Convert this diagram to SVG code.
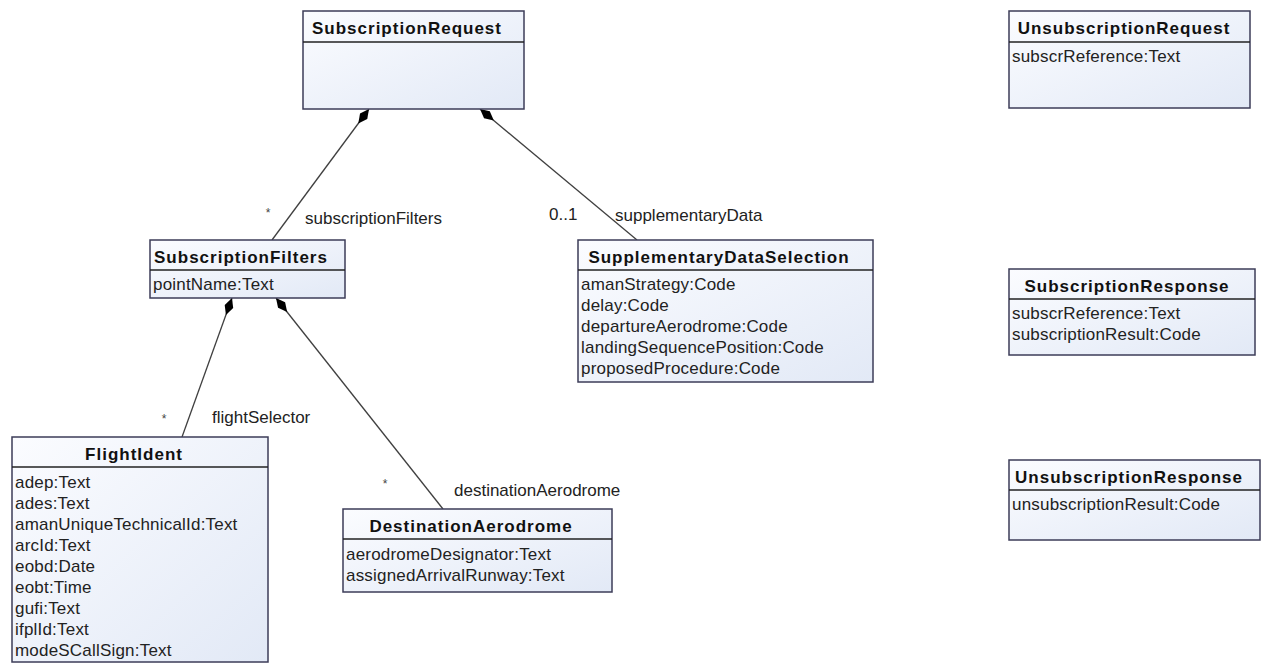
<svg xmlns="http://www.w3.org/2000/svg" width="1262" height="664" viewBox="0 0 1262 664">
<defs>
<linearGradient id="boxfill" x1="0" y1="0" x2="1" y2="1">
<stop offset="0" stop-color="#fbfcff"/>
<stop offset="1" stop-color="#e2e9f6"/>
</linearGradient>
<marker id="diamond" viewBox="0 0 18 10" refX="0" refY="5" markerWidth="18" markerHeight="10" markerUnits="userSpaceOnUse" orient="auto">
<path d="M0,5 L9,0.5 L18,5 L9,9.5 Z" fill="#000"/>
</marker>
<style>
.box{fill:url(#boxfill);stroke:#3c3c58;stroke-width:1.5}
.hdr{stroke:#222;stroke-width:1.3}
.title{font-family:"Liberation Sans",Arial,sans-serif;font-size:17px;font-weight:bold;letter-spacing:1px;fill:#111;text-anchor:middle}
.attr{font-family:"Liberation Sans",Arial,sans-serif;font-size:17px;letter-spacing:0.2px;fill:#222}
.lbl{font-family:"Liberation Sans",Arial,sans-serif;font-size:17px;fill:#222}
.mult{font-family:"Liberation Sans",Arial,sans-serif;font-size:12px;fill:#444;text-anchor:middle}
.conn{stroke:#404040;stroke-width:1.3;fill:none;marker-start:url(#diamond)}
</style>
</defs>
<rect width="1262" height="664" fill="#fff"/>
<g id="connectors">
<line class="conn" x1="369" y1="109" x2="272" y2="240"/>
<line class="conn" x1="480" y1="109" x2="637" y2="240"/>
<line class="conn" x1="232" y1="298" x2="182" y2="437"/>
<line class="conn" x1="276" y1="298" x2="443" y2="509"/>
<text class="mult" x="268" y="217">*</text>
<text class="lbl" x="305" y="224">subscriptionFilters</text>
<text class="lbl" x="549" y="220">0..1</text>
<text class="lbl" x="615" y="221">supplementaryData</text>
<text class="mult" x="164" y="423">*</text>
<text class="lbl" x="212" y="423">flightSelector</text>
<text class="mult" x="385" y="488">*</text>
<text class="lbl" x="454" y="496">destinationAerodrome</text>
</g>
<g id="SubscriptionRequest">
<rect class="box" x="303" y="11" width="221" height="98"/>
<line class="hdr" x1="303" y1="42" x2="524" y2="42"/>
<text class="title" x="407" y="34">SubscriptionRequest</text>
</g>
<g id="UnsubscriptionRequest">
<rect class="box" x="1009" y="11" width="241" height="97"/>
<line class="hdr" x1="1009" y1="42" x2="1250" y2="42"/>
<text class="title" x="1124" y="34">UnsubscriptionRequest</text>
<text class="attr" x="1012" y="62">subscrReference:Text</text>
</g>
<g id="SubscriptionResponse">
<rect class="box" x="1009" y="269" width="246" height="86"/>
<line class="hdr" x1="1009" y1="299" x2="1255" y2="299"/>
<text class="title" x="1127" y="292">SubscriptionResponse</text>
<text class="attr" x="1012" y="319">subscrReference:Text</text>
<text class="attr" x="1012" y="340">subscriptionResult:Code</text>
</g>
<g id="UnsubscriptionResponse">
<rect class="box" x="1009" y="460" width="251" height="80"/>
<line class="hdr" x1="1009" y1="490" x2="1260" y2="490"/>
<text class="title" x="1129" y="483">UnsubscriptionResponse</text>
<text class="attr" x="1012" y="510">unsubscriptionResult:Code</text>
</g>
<g id="SubscriptionFilters">
<rect class="box" x="150" y="240" width="195" height="58"/>
<line class="hdr" x1="150" y1="270" x2="345" y2="270"/>
<text class="title" x="241" y="263">SubscriptionFilters</text>
<text class="attr" x="153" y="290">pointName:Text</text>
</g>
<g id="SupplementaryDataSelection">
<rect class="box" x="578" y="240" width="295" height="142"/>
<line class="hdr" x1="578" y1="270" x2="873" y2="270"/>
<text class="title" x="719" y="263">SupplementaryDataSelection</text>
<text class="attr" x="581" y="290">amanStrategy:Code</text>
<text class="attr" x="581" y="311">delay:Code</text>
<text class="attr" x="581" y="332">departureAerodrome:Code</text>
<text class="attr" x="581" y="353">landingSequencePosition:Code</text>
<text class="attr" x="581" y="374">proposedProcedure:Code</text>
</g>
<g id="FlightIdent">
<rect class="box" x="12" y="437" width="256" height="225"/>
<line class="hdr" x1="12" y1="467" x2="268" y2="467"/>
<text class="title" x="134" y="460">FlightIdent</text>
<text class="attr" x="15" y="488">adep:Text</text>
<text class="attr" x="15" y="509">ades:Text</text>
<text class="attr" x="15" y="530">amanUniqueTechnicalId:Text</text>
<text class="attr" x="15" y="551">arcId:Text</text>
<text class="attr" x="15" y="572">eobd:Date</text>
<text class="attr" x="15" y="593">eobt:Time</text>
<text class="attr" x="15" y="614">gufi:Text</text>
<text class="attr" x="15" y="635">ifplId:Text</text>
<text class="attr" x="15" y="656">modeSCallSign:Text</text>
</g>
<g id="DestinationAerodrome">
<rect class="box" x="343" y="509" width="269" height="83"/>
<line class="hdr" x1="343" y1="539" x2="612" y2="539"/>
<text class="title" x="471" y="532">DestinationAerodrome</text>
<text class="attr" x="346" y="560">aerodromeDesignator:Text</text>
<text class="attr" x="346" y="581">assignedArrivalRunway:Text</text>
</g>
</svg>
